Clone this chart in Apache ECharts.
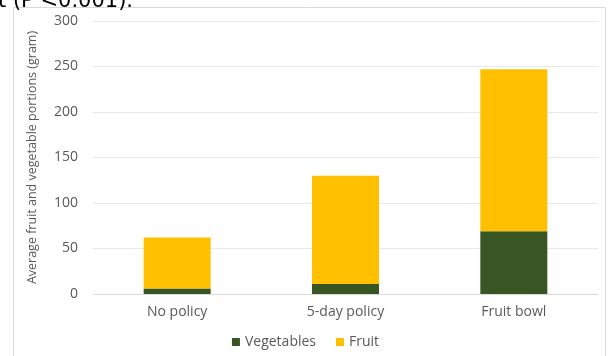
<!DOCTYPE html>
<html><head><meta charset="utf-8">
<script src="https://cdn.jsdelivr.net/npm/echarts@6/dist/echarts.min.js"></script>
<style>html,body{margin:0;padding:0;background:#fff}#c{width:611px;height:356px}</style>
</head><body><div id="c"></div>
<script>
const categories = ['No policy', '5-day policy', 'Fruit bowl'];
const vegetables = [6, 11, 69];
const fruit = [56, 119, 178];
const yTicks = [0, 50, 100, 150, 200, 250, 300];

const chart = echarts.init(document.getElementById('c'), null, {renderer: 'canvas'});
const font = '"Open Sans", "Liberation Sans", sans-serif';
chart.setOption({
  animation: false,
  graphic: [
    {type: 'rect', shape: {x: 13.5, y: 7.5, width: 592, height: 360}, style: {fill: 'none', stroke: '#d9d9d9', lineWidth: 1}},
    {type: 'text', left: -2, top: -9, style: {text: 't (P <0.001).', fontSize: 21, fontFamily: '"DejaVu Sans", sans-serif', fill: '#000'}}
  ],
  grid: {left: 93, right: 13, top: 21, bottom: 62},
  legend: {
    bottom: 2, left: 'center', itemWidth: 8, itemHeight: 8, itemGap: 20,
    icon: 'rect',
    textStyle: {color: '#595959', fontSize: 14, fontFamily: font},
    data: ['Vegetables', 'Fruit']
  },
  xAxis: {
    type: 'category', data: categories,
    axisLine: {show: true, lineStyle: {color: '#d9d9d9'}},
    axisTick: {show: false},
    axisLabel: {color: '#595959', fontSize: 14, fontFamily: font, margin: 11}
  },
  yAxis: {
    type: 'value', min: yTicks[0], max: yTicks[yTicks.length - 1], interval: 50,
    name: 'Average fruit and vegetable portions (gram)',
    nameLocation: 'middle', nameGap: 54, nameRotate: 90,
    nameTextStyle: {color: '#595959', fontSize: 12.5, fontFamily: font},
    axisLine: {show: false}, axisTick: {show: false},
    axisLabel: {color: '#595959', fontSize: 14, fontFamily: font, margin: 15},
    splitLine: {lineStyle: {color: '#e8e8e8'}}
  },
  series: [
    {name: 'Vegetables', type: 'bar', stack: 't', data: vegetables, barWidth: 67, itemStyle: {color: '#375623'}},
    {name: 'Fruit', type: 'bar', stack: 't', data: fruit, barWidth: 67, itemStyle: {color: '#FFC000'}}
  ]
});
</script></body></html>
